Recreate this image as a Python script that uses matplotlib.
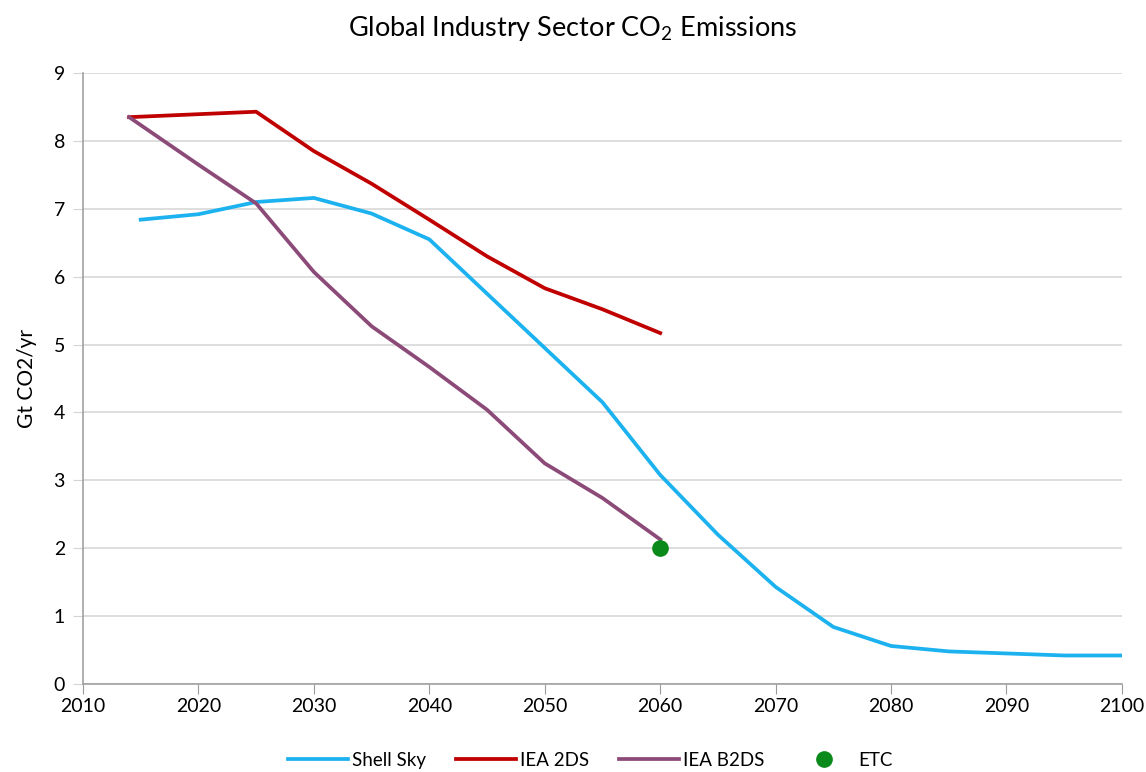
import matplotlib
matplotlib.use('Agg')
import matplotlib.pyplot as plt

plt.rcParams['font.family'] = ['Lato', 'DejaVu Sans']
plt.rcParams['mathtext.fontset'] = 'custom'
plt.rcParams['mathtext.rm'] = 'Lato'

# data
shell_years = [2015, 2020, 2025, 2030, 2035, 2040, 2045, 2050, 2055, 2060,
               2065, 2070, 2075, 2080, 2085, 2090, 2095, 2100]
shell_sky = [6.84, 6.92, 7.10, 7.16, 6.93, 6.55, 5.75, 4.95, 4.15, 3.08,
             2.20, 1.43, 0.84, 0.56, 0.48, 0.45, 0.42, 0.42]

iea_years = [2014, 2025, 2030, 2035, 2040, 2045, 2050, 2055, 2060]
iea_2ds = [8.35, 8.43, 7.85, 7.37, 6.84, 6.30, 5.83, 5.52, 5.17]
iea_b2ds = [8.35, 7.65, 7.08, 6.07, 5.27, 4.67, 4.04, 3.25, 2.74, 2.13]
b2ds_years = [2014, 2020, 2025, 2030, 2035, 2040, 2045, 2050, 2055, 2060]

etc_year = [2060]
etc_val = [2.0]

fig = plt.figure(figsize=(11.46, 7.72), dpi=100)
ax = fig.add_axes([0.0724, 0.114, 0.9066, 0.7914])

ax.plot(shell_years, shell_sky, color='#1cb2ef', lw=2.7, label='Shell Sky', zorder=3)
ax.plot(iea_years, iea_2ds, color='#c00000', lw=2.7, label='IEA 2DS', zorder=3)
ax.plot(b2ds_years, iea_b2ds, color='#8c4a78', lw=2.7, label='IEA B2DS', zorder=3)
ax.plot(etc_year, etc_val, 'o', color='#0a8a1a', ms=11, label='ETC', zorder=4, ls='none')

ax.set_xlim(2010, 2100)
ax.set_ylim(0, 9)
ax.set_xticks(range(2010, 2101, 10))
ax.set_yticks(range(0, 10))
ax.yaxis.grid(True, color='#d4d4d4', lw=1.1)
ax.set_axisbelow(True)
for s in ['top', 'right']:
    ax.spines[s].set_visible(False)
for s in ['left', 'bottom']:
    ax.spines[s].set_color('#9a9a9a')
    ax.spines[s].set_linewidth(1.1)
ax.tick_params(axis='x', length=7, color='#9a9a9a', labelsize=14, pad=3)
ax.tick_params(axis='y', length=7, color='#d4d4d4', labelsize=14, pad=6)
ax.set_ylabel('Gt CO2/yr', fontsize=15, labelpad=12)

fig.suptitle('Global Industry Sector CO$_2$ Emissions', fontsize=19.5, y=0.982)

fig.legend(loc='lower center', ncol=4, frameon=False, fontsize=13.5,
           handlelength=3.2, handletextpad=0.2, columnspacing=1.6,
           bbox_to_anchor=(0.515, -0.018))

fig.savefig('out.png', dpi=100)
